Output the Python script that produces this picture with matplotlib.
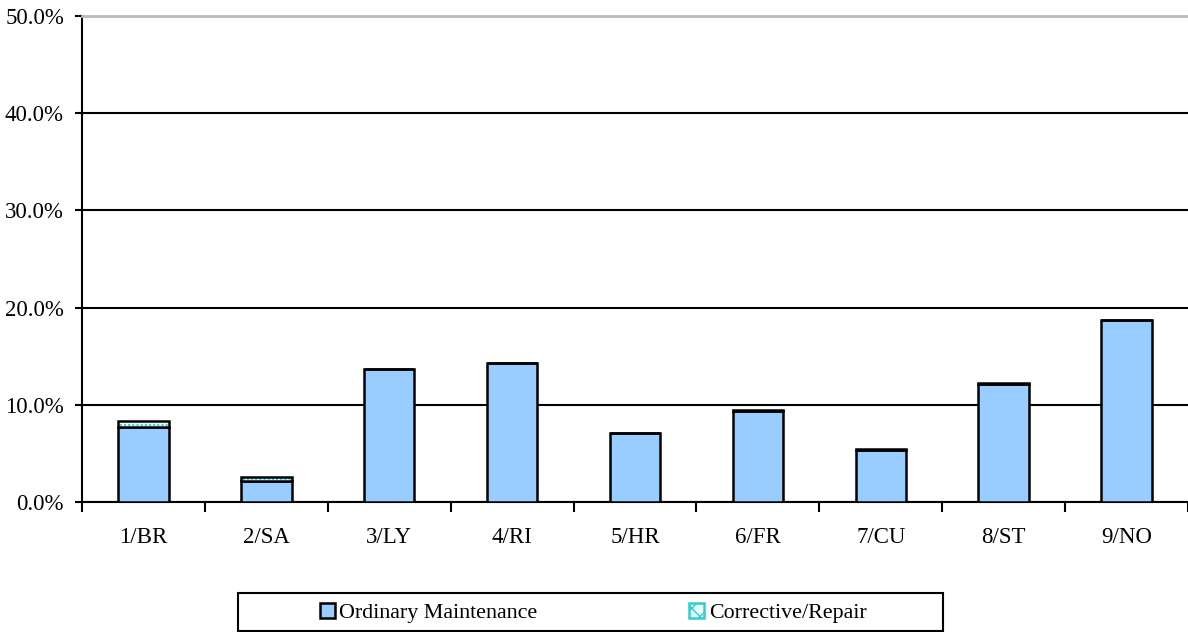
import matplotlib
matplotlib.use("Agg")
import matplotlib.pyplot as plt
from matplotlib.patches import Patch, Rectangle
from matplotlib.ticker import FuncFormatter, MultipleLocator
import numpy as np

plt.rcParams['font.family'] = ['Liberation Serif', 'DejaVu Serif']

# valori (percentuali)
categorie = ['1/BR', '2/SA', '3/LY', '4/RI', '5/HR', '6/FR', '7/CU', '8/ST', '9/NO']
ordinaria = [7.7, 2.2, 13.7, 14.3, 7.1, 9.4, 5.3, 12.1, 18.7]
correttiva = [0.6, 0.4, 0.0, 0.0, 0.0, 0.1, 0.2, 0.1, 0.0]

fig = plt.figure(figsize=(11.88, 6.32), dpi=100)
ax = fig.add_axes([82 / 1188, 130 / 632, 1 - 82 / 1188, 486 / 632])

x = np.arange(len(categorie))
w = 0.41

ax.bar(x, ordinaria, width=w, color='#99CCFF', edgecolor='black', linewidth=1.8, zorder=3)
# parte correttiva: tratteggio a puntini ciano, poi bordo nero
ax.bar(x, correttiva, width=w, bottom=ordinaria, color='#E8FFFF', edgecolor='#33CCCC',
       hatch='....', linewidth=0, zorder=3)
ax.bar(x, correttiva, width=w, bottom=ordinaria, fill=False, edgecolor='black',
       linewidth=1.8, zorder=4)

ax.set_xlim(-0.5, len(categorie) - 0.5)
ax.set_ylim(0, 50)
ax.yaxis.set_major_locator(MultipleLocator(10))
ax.yaxis.set_major_formatter(FuncFormatter(lambda v, p: f"{v:.1f}%"))
ax.yaxis.grid(True, color='black', linewidth=1.5, zorder=0)

ax.set_xticks(x)
ax.set_xticklabels(categorie)
ax.set_xticks(np.arange(-0.5, len(categorie)), minor=True)
ax.tick_params(axis='x', which='major', length=0, pad=18, labelsize=16.5)
ax.tick_params(axis='x', which='minor', length=7, width=1.5, direction='out')
ax.tick_params(axis='y', length=5, width=1.5, direction='out', pad=8, labelsize=16.5)

ax.spines['right'].set_visible(False)
ax.spines['top'].set_color('#BBBBBB')
ax.spines['top'].set_linewidth(2)
ax.spines['left'].set_linewidth(1.5)
ax.spines['bottom'].set_linewidth(1.5)

# cornice della legenda disegnata a mano
fig.patches.append(Rectangle((238 / 1188, 1 / 632), 705 / 1188, 38 / 632,
                             transform=fig.transFigure, fill=False,
                             edgecolor='black', linewidth=1.5))

handles = [Patch(facecolor='#99CCFF', edgecolor='black', linewidth=1.8, label='Ordinary Maintenance'),
           Patch(facecolor='#E8FFFF', edgecolor='#33CCCC', hatch='xx', linewidth=1.8,
                 label='Corrective/Repair')]
leg = fig.legend(handles=handles, loc='center', ncol=2, frameon=False,
                 bbox_to_anchor=(593 / 1188, 19 / 632),
                 fontsize=15.8, handlelength=0.7, handleheight=0.7, handletextpad=0.2,
                 borderpad=0.2, columnspacing=6.9)

fig.savefig('out.png', dpi=100)
